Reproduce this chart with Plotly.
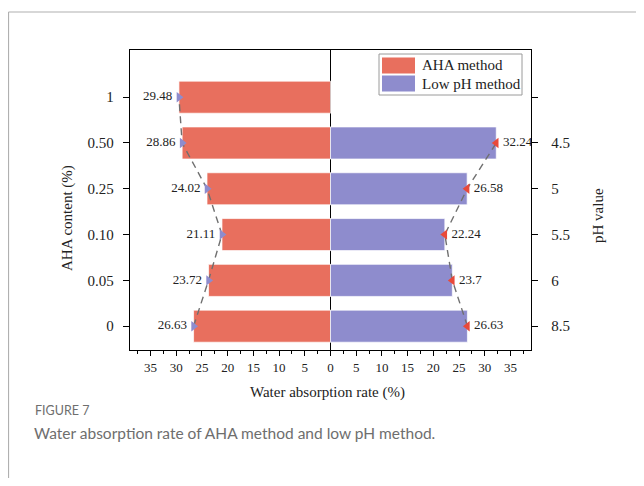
import numpy as np
import plotly.graph_objects as go

# ---- data ----
aha_content = ["0", "0.05", "0.10", "0.25", "0.50", "1"]          # bottom -> top
aha_rate = [26.63, 23.72, 21.11, 24.02, 28.86, 29.48]
ph_values = ["8.5", "6", "5.5", "5", "4.5"]                      # bottom -> top
ph_rate = [26.63, 23.7, 22.24, 26.58, 32.24]
x_ticks = [-35, -30, -25, -20, -15, -10, -5, 0, 5, 10, 15, 20, 25, 30, 35]
series_names = ["AHA method", "Low pH method"]

RED = "#E86F5E"
PURPLE = "#8E8CCD"
SERIF = "Liberation Serif, Times New Roman, serif"
SANS = "Lato, Open Sans, sans-serif"

y_aha = list(range(len(aha_content)))
y_ph = list(range(len(ph_values)))
neg_aha = [-v for v in aha_rate]

fig = go.Figure()

fig.add_trace(go.Bar(
    y=y_aha, x=neg_aha, orientation="h", width=0.7, name=series_names[0],
    marker=dict(color=RED, line=dict(color="rgba(255,255,255,0.7)", width=1)),
))
fig.add_trace(go.Bar(
    y=y_ph, x=ph_rate, orientation="h", width=0.7, name=series_names[1],
    yaxis="y2",
    marker=dict(color=PURPLE, line=dict(color="rgba(255,255,255,0.7)", width=1)),
))
fig.add_trace(go.Scatter(
    y=y_aha, x=neg_aha, mode="lines+markers+text", showlegend=False,
    line=dict(color="#707070", width=1.4, dash="7px,5px"),
    marker=dict(symbol="triangle-right", size=9, color=PURPLE),
    text=[f"{v:.2f}" for v in aha_rate],
    textposition="middle left",
    textfont=dict(family=SERIF, size=13, color="#222"),
))
fig.add_trace(go.Scatter(
    y=y_ph, x=ph_rate, mode="lines+markers+text", showlegend=False,
    yaxis="y2",
    line=dict(color="#707070", width=1.4, dash="7px,5px"),
    marker=dict(symbol="triangle-left", size=9, color="#E8493A"),
    text=[f"{v:g}" for v in ph_rate],
    textposition="middle right",
    textfont=dict(family=SERIF, size=13, color="#222"),
))

yr = [-0.52, 6.03]
minor_vals = list(np.arange(-37.5, 38, 5))

# page body has an 8px margin: figure is sized to fit the window without scrollbars
fig.update_layout(
    width=628, height=470,
    margin=dict(l=122, r=105, t=42, b=128),
    paper_bgcolor="white", plot_bgcolor="white",
    barmode="overlay",
    showlegend=False,
    font=dict(family=SERIF, size=15, color="#222"),
    xaxis=dict(
        range=[-39, 39], tickmode="array", tickvals=x_ticks,
        ticktext=[str(abs(t)) for t in x_ticks],
        ticks="outside", ticklen=5, tickcolor="black", tickwidth=1,
        minor=dict(tickmode="array", tickvals=minor_vals, ticks="outside",
                   ticklen=3, tickcolor="black", tickwidth=1),
        showline=True, linecolor="black", linewidth=1.3, mirror=True,
        showgrid=False, zeroline=True, zerolinecolor="black", zerolinewidth=1.3,
        tickfont=dict(size=13),
    ),
    yaxis=dict(
        range=yr, tickmode="array", tickvals=y_aha, ticktext=aha_content,
        ticks="outside", ticklen=6, tickcolor="black", ticklabelstandoff=6,
        showline=True, linecolor="black", linewidth=1.3,
        showgrid=False, zeroline=False,
    ),
    yaxis2=dict(
        range=yr, overlaying="y", side="right", tickmode="array",
        tickvals=list(range(len(ph_values) + 1)), ticktext=ph_values + [""],
        ticks="outside", ticklen=6, tickcolor="black", ticklabelstandoff=10,
        showline=True, linecolor="black", linewidth=1.3,
        showgrid=False, zeroline=False,
    ),
)

def px(xs):
    return (xs - 130) / 401

def py(ys):
    return (350 - ys) / 300

# legend (drawn in the plot's paper space)
fig.add_shape(type="rect", xref="paper", yref="paper",
              x0=px(379), x1=px(522), y0=py(54), y1=py(95),
              line=dict(color="#9a9a9a", width=1), fillcolor="white", layer="above")
for i, (name, col) in enumerate(zip(series_names, [RED, PURPLE])):
    yc = 65.5 + 18 * i
    fig.add_shape(type="rect", xref="paper", yref="paper",
                  x0=px(382), x1=px(415), y0=py(yc - 8), y1=py(yc + 8),
                  line=dict(width=0), fillcolor=col, layer="above")
    fig.add_annotation(text=name, xref="paper", yref="paper",
                       x=px(420), y=py(yc), xanchor="left", yanchor="middle",
                       showarrow=False, font=dict(family=SERIF, size=15, color="#222"))

# axis titles
fig.add_annotation(text="Water absorption rate (%)", xref="paper", yref="paper",
                   x=px(327), y=py(392), xanchor="center", yanchor="middle",
                   showarrow=False, font=dict(family=SERIF, size=15, color="#222"))
fig.add_annotation(text="AHA content (%)", xref="paper", yref="paper",
                   x=px(67), y=py(218), xanchor="center", yanchor="middle",
                   textangle=-90, showarrow=False,
                   font=dict(family=SERIF, size=15, color="#222"))
fig.add_annotation(text="pH value", xref="paper", yref="paper",
                   x=px(598), y=py(216), xanchor="center", yanchor="middle",
                   textangle=-90, showarrow=False,
                   font=dict(family=SERIF, size=15, color="#222"))

# caption
fig.add_annotation(text="FIGURE 7", xref="paper", yref="paper",
                   x=px(33), y=py(410), xanchor="left", yanchor="middle",
                   showarrow=False, font=dict(family=SANS, size=12.5, color="#6e6e6e"))
fig.add_annotation(text="Water absorption rate of AHA method and low pH method.",
                   xref="paper", yref="paper",
                   x=px(32), y=py(433), xanchor="left", yanchor="middle",
                   showarrow=False, font=dict(family=SANS, size=15.5, color="#6e6e6e"))

# frame lines
fig.add_shape(type="line", xref="paper", yref="paper",
              x0=px(8.5), x1=px(700), y0=py(12), y1=py(12),
              line=dict(color="#b0b0b0", width=1.2))
fig.add_shape(type="line", xref="paper", yref="paper",
              x0=px(8.5), x1=px(8.5), y0=py(12), y1=py(520),
              line=dict(color="#b0b0b0", width=1.2))

fig.write_html("out.html")
